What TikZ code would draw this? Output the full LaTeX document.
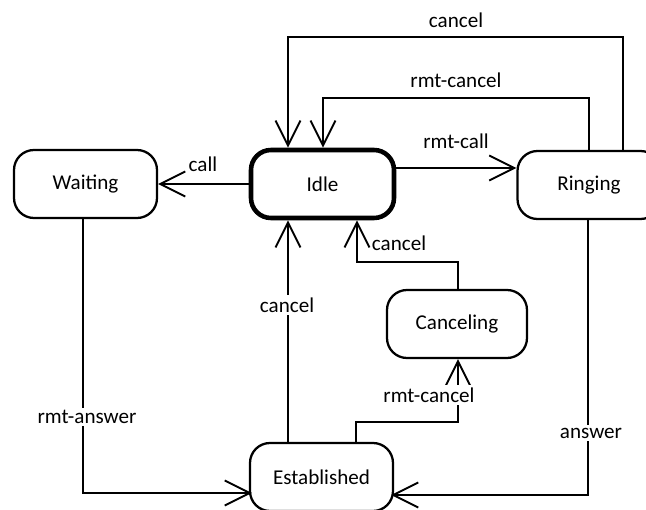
\documentclass[tikz,border=0pt]{standalone}
\usepackage{fontspec}
\setmainfont{Carlito}
\usetikzlibrary{arrows, arrows.meta}

\tikzset{
  state/.style={draw, line width=1.3pt, rounded corners=4mm, minimum width=2.86cm, minimum height=1.36cm},
  idlestate/.style={state, line width=2.6pt},
  trans/.style={line width=1.1pt, -{Straight Barb[length=5mm, width=5mm, line width=1.1pt]}},
  lbl/.style={inner sep=1.5pt},
  cutlbl/.style={lbl, fill=white}
}

\begin{document}
\begin{tikzpicture}[font=\fontsize{12}{14}\selectfont]
%\draw[step=0.5cm,gray,very thin] (0,0) grid (12.92,10.18); %background grid
\useasboundingbox (0,0) rectangle (12.92,10.18);
\clip (0,0) rectangle (12.92,10.18);

\node[state]     (waiting)     at (1.71,6.50)  {Waiting};
\node[idlestate] (idle)        at (6.45,6.50)  {Idle};
\node[state]     (ringing)     at (11.78,6.48) {Ringing};
\node[state, minimum width=2.80cm] (canceling) at (9.14,3.70) {Canceling};
\node[state]     (established) at (6.43,0.64)  {Established};

% bends
\coordinate (topR)  at (12.46,9.44);
\coordinate (topL)  at (5.76,9.44);
\coordinate (midR)  at (11.78,8.22);
\coordinate (midL)  at (6.46,8.22);
\coordinate (canR)  at (9.16,4.94);
\coordinate (canL)  at (7.14,4.94);
\coordinate (estL)  at (7.12,1.74);
\coordinate (estR)  at (9.16,1.74);
\coordinate (waitB) at (1.66,0.32);
\coordinate (ringB) at (11.76,0.28);

\draw[trans] (idle.west) -- (waiting.east);
\draw[trans] ([yshift=3.2mm]idle.east) -- ([yshift=3.2mm]idle.east -| ringing.west);
\draw[trans] (ringing.north -| topR) -- (topR) -- (topL) -- (topL |- idle.north);
\draw[trans] (ringing.north -| midR) -- (midR) -- (midL) -- (midL |- idle.north);
\draw[trans] (established.north -| topL) -- (topL |- idle.south);
\draw[trans] (canceling.north -| canR) -- (canR) -- (canL) -- (canL |- idle.south);
\draw[trans] (established.north -| estL) -- (estL) -- (estR) -- (estR |- canceling.south);
\draw[trans] (waiting.south -| waitB) -- (waitB) -- ([xshift=0.6mm]waitB -| established.west);
\draw[trans] (ringing.south -| ringB) -- (ringB) -- ([xshift=-0.6mm]ringB -| established.east);

\node[lbl]    (lcall)     at (4.06,6.90)  {call};
\node[lbl]    (lrmtcall)  at (9.12,7.36)  {rmt-call};
\node[lbl]    (ltopcan)   at (9.12,9.78)  {cancel};
\node[lbl]    (ltoprmt)   at (9.12,8.58)  {rmt-cancel};
\node[cutlbl] (lestcan)   at (5.74,4.08)  {cancel};
\node[lbl]    (lcancan)   at (7.98,5.32)  {cancel};
\node[cutlbl] (lestrmt)   at (8.58,2.28)  {rmt-cancel};
\node[cutlbl] (lrmtans)   at (1.74,1.84)  {rmt-answer};
\node[cutlbl] (lanswer)   at (11.82,1.52) {answer};

\end{tikzpicture}
\end{document}
